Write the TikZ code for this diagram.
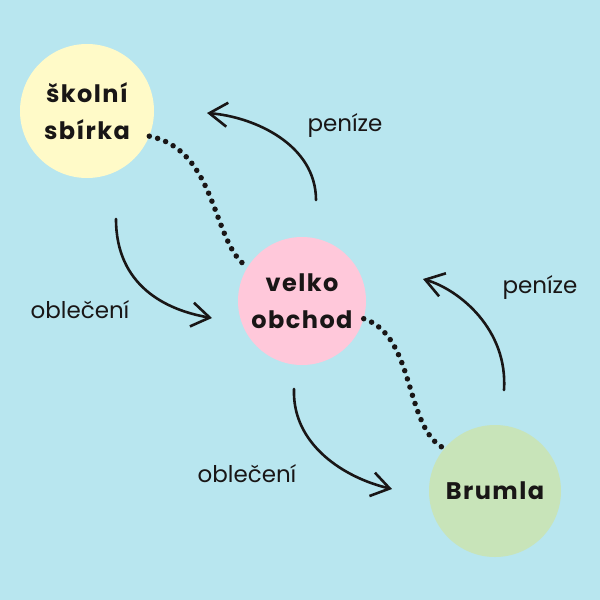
\documentclass[tikz,border=0pt]{standalone}
\usepackage{fontspec}
\setmainfont{Poppins}
\newfontfamily\bubblefam[LetterSpace=6]{Poppins}
\newfontfamily\labfam{Poppins}
\usetikzlibrary{arrows.meta}
\definecolor{bg}{RGB}{184,230,239}
\definecolor{yel}{RGB}{255,250,200}
\definecolor{pnk}{RGB}{255,200,218}
\definecolor{grn}{RGB}{200,228,185}
\definecolor{ink}{RGB}{25,22,22}
\tikzset{
  bubble/.style={circle, inner sep=0pt, align=center, text=ink,
    font={\bubblefam\bfseries\fontsize{24}{37}\selectfont}},
  lab/.style={inner sep=0pt, anchor=base, text=ink,
    font={\labfam\fontsize{23}{26}\selectfont}},
  flow/.style={draw=ink, line width=2.6pt, line cap=round,
    -{Straight Barb[length=18pt,width=24pt,line width=2.6pt]}},
  dots/.style={draw=ink, line width=5.5pt, line cap=round,
    dash pattern=on 0pt off 8.6pt}
}
\begin{document}
\begin{tikzpicture}[x=1pt,y=-1pt]
\fill[bg] (0,0) rectangle (600,600);
\useasboundingbox (0,0) rectangle (600,600);

\node[bubble, fill=yel, minimum size=134pt] (skola) at (87,111) {školní\\sbírka};
\node[bubble, fill=pnk, minimum size=128pt] (velko) at (302,301) {velko\\obchod};
\node[bubble, fill=grn, minimum size=132pt] (brumla) at (495,491) {Brumla};

% dotted links
\draw[dots] (skola.-22) .. controls (218,150) and (212,245) .. (velko.148);
\draw[dots] (velko.-16) .. controls (416,336) and (404,428) .. (brumla.140);

% arrows
\coordinate (a1s) at (316,200); \coordinate (a1e) at (207,113);
\coordinate (a2s) at (116,219); \coordinate (a2e) at (212,318);
\coordinate (a3s) at (504,390); \coordinate (a3e) at (423,279);
\coordinate (a4s) at (294,389); \coordinate (a4e) at (392,489);
\draw[flow] (a1s) .. controls (316,145) and (255,117) .. (a1e);
\draw[flow] (a2s) .. controls (116,285) and (165,310) .. (a2e);
\draw[flow] (a3s) .. controls (508,330) and (460,290) .. (a3e);
\draw[flow] (a4s) .. controls (292,445) and (345,478) .. (a4e);

% labels
\node[lab] (p1) at (345,131) {peníze};
\node[lab] (p2) at (540,293) {peníze};
\node[lab] (o1) at (80,318) {oblečení};
\node[lab] (o2) at (247,482) {oblečení};
\end{tikzpicture}
\end{document}
